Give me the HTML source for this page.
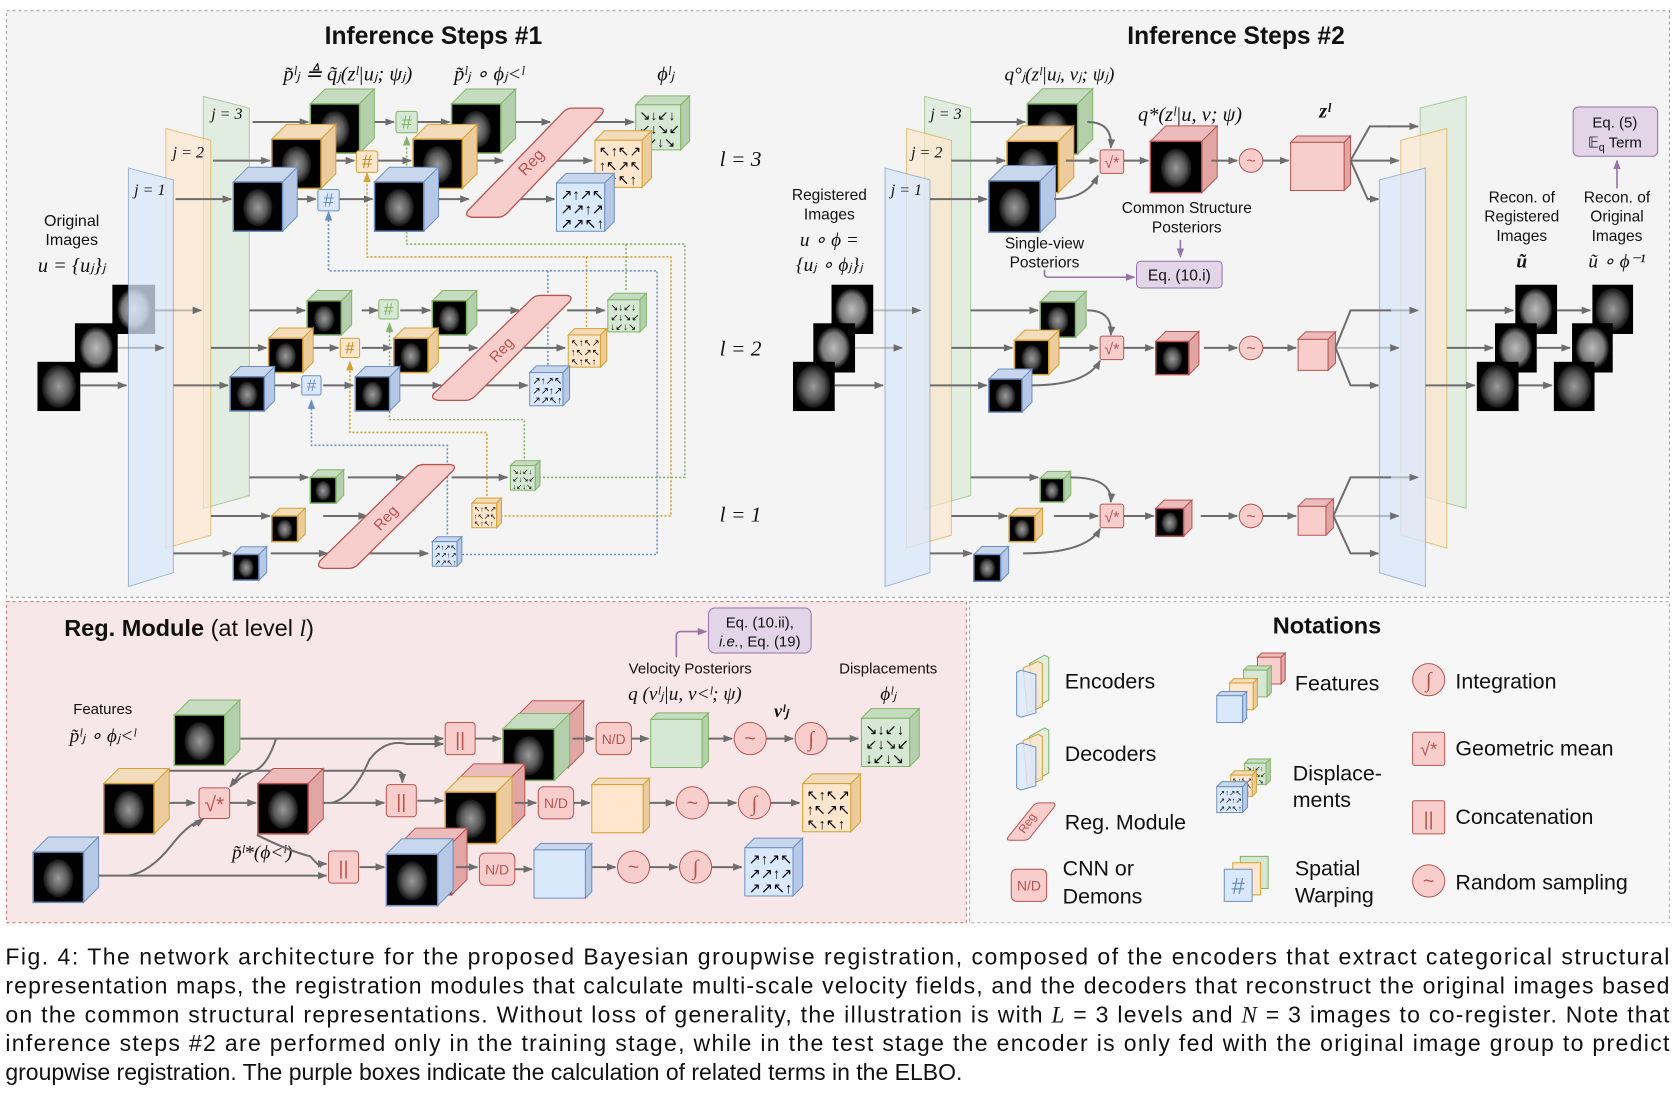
<!DOCTYPE html>
<html><head><meta charset="utf-8"><style>
html,body{margin:0;padding:0;background:#fff;}
svg{display:block}
text{font-family:"Liberation Sans",sans-serif;fill:#111}
.m{font-family:"Liberation Serif",serif;font-style:italic}
polygon,rect,ellipse,path,line,circle{vector-effect:non-scaling-stroke}
.ar{stroke:#6d6d6d;stroke-width:2;fill:none;marker-end:url(#a)}
.ln{stroke:#6d6d6d;stroke-width:2;fill:none}
</style></head><body>
<svg width="1678" height="1094" viewBox="0 0 1568 1022" preserveAspectRatio="none" xmlns="http://www.w3.org/2000/svg">
<defs>
<marker id="a" markerWidth="9" markerHeight="9" refX="8" refY="4.5" orient="auto" markerUnits="userSpaceOnUse"><path d="M0,1 L9,4.5 L0,8 z" fill="#6d6d6d"/></marker>
<marker id="ag" markerWidth="9" markerHeight="9" refX="8" refY="4.5" orient="auto" markerUnits="userSpaceOnUse"><path d="M0,1 L9,4.5 L0,8 z" fill="#82b366"/></marker>
<marker id="ao" markerWidth="9" markerHeight="9" refX="8" refY="4.5" orient="auto" markerUnits="userSpaceOnUse"><path d="M0,1 L9,4.5 L0,8 z" fill="#d6a030"/></marker>
<marker id="ab" markerWidth="9" markerHeight="9" refX="8" refY="4.5" orient="auto" markerUnits="userSpaceOnUse"><path d="M0,1 L9,4.5 L0,8 z" fill="#6c8ebf"/></marker>
<marker id="ap" markerWidth="9" markerHeight="9" refX="8" refY="4.5" orient="auto" markerUnits="userSpaceOnUse"><path d="M0,1 L9,4.5 L0,8 z" fill="#9673a6"/></marker>
<radialGradient id="br" cx="0.5" cy="0.5" r="0.5"><stop offset="0" stop-color="#9a9a9a"/><stop offset="0.6" stop-color="#5a5a5a"/><stop offset="1" stop-color="#111"/></radialGradient>
<radialGradient id="mri" cx="0.5" cy="0.5" r="0.5"><stop offset="0" stop-color="#bbb"/><stop offset="0.7" stop-color="#777"/><stop offset="1" stop-color="#000"/></radialGradient>
<g id="cg"><polygon points="0,0 30,-30 130,-30 100,0" fill="#c6dcc0" stroke="#82b366"/><polygon points="100,0 130,-30 130,70 100,100" fill="#b3cfac" stroke="#82b366"/><rect width="100" height="100" fill="#000" stroke="#82b366" stroke-width="1.5"/><ellipse cx="50" cy="52" rx="30" ry="38" fill="url(#br)"/></g>
<g id="co"><polygon points="0,0 30,-30 130,-30 100,0" fill="#f3dcbb" stroke="#d6a030"/><polygon points="100,0 130,-30 130,70 100,100" fill="#eccb9c" stroke="#d6a030"/><rect width="100" height="100" fill="#000" stroke="#d6a030" stroke-width="1.5"/><ellipse cx="50" cy="52" rx="30" ry="38" fill="url(#br)"/></g>
<g id="cb"><polygon points="0,0 30,-30 130,-30 100,0" fill="#c9d7ec" stroke="#6c8ebf"/><polygon points="100,0 130,-30 130,70 100,100" fill="#b5c8e5" stroke="#6c8ebf"/><rect width="100" height="100" fill="#000" stroke="#6c8ebf" stroke-width="1.5"/><ellipse cx="50" cy="52" rx="30" ry="38" fill="url(#br)"/></g>
<g id="cr"><polygon points="0,0 30,-30 130,-30 100,0" fill="#ebbcbb" stroke="#b85450"/><polygon points="100,0 130,-30 130,70 100,100" fill="#e1a6a4" stroke="#b85450"/><rect width="100" height="100" fill="#000" stroke="#b85450" stroke-width="1.5"/><ellipse cx="50" cy="52" rx="30" ry="38" fill="url(#br)"/></g>
<g id="dg"><polygon points="0,0 20,-20 120,-20 100,0" fill="#c6dcc0" stroke="#82b366"/><polygon points="100,0 120,-20 120,80 100,100" fill="#b3cfac" stroke="#82b366"/><rect width="100" height="100" fill="#d5e8d4" stroke="#82b366"/><text x="8" y="34" font-size="30" style="fill:#000">↘↓↙↓</text><text x="8" y="64" font-size="30" style="fill:#000">↙↓↘↙</text><text x="8" y="94" font-size="30" style="fill:#000">↓↙↓↘</text></g>
<g id="do"><polygon points="0,0 20,-20 120,-20 100,0" fill="#f3dcbb" stroke="#d6a030"/><polygon points="100,0 120,-20 120,80 100,100" fill="#eccb9c" stroke="#d6a030"/><rect width="100" height="100" fill="#ffe6cc" stroke="#d6a030"/><text x="8" y="34" font-size="30" style="fill:#000">↖↑↖↗</text><text x="8" y="64" font-size="30" style="fill:#000">↑↖↗↖</text><text x="8" y="94" font-size="30" style="fill:#000">↖↑↖↑</text></g>
<g id="db"><polygon points="0,0 20,-20 120,-20 100,0" fill="#c9d7ec" stroke="#6c8ebf"/><polygon points="100,0 120,-20 120,80 100,100" fill="#b5c8e5" stroke="#6c8ebf"/><rect width="100" height="100" fill="#dae8fc" stroke="#6c8ebf"/><text x="8" y="34" font-size="30" style="fill:#000">↗↑↗↖</text><text x="8" y="64" font-size="30" style="fill:#000">↗↗↑↗</text><text x="8" y="94" font-size="30" style="fill:#000">↗↗↖↑</text></g>
<g id="wg"><rect width="20" height="20" rx="2" fill="#d5e8d4" stroke="#82b366"/><text x="10" y="16" font-size="17" text-anchor="middle" style="fill:#82b366">#</text></g>
<g id="wo"><rect width="20" height="20" rx="2" fill="#ffe6cc" stroke="#d6a030"/><text x="10" y="16" font-size="17" text-anchor="middle" style="fill:#c08a20">#</text></g>
<g id="wb"><rect width="20" height="20" rx="2" fill="#dae8fc" stroke="#6c8ebf"/><text x="10" y="16" font-size="17" text-anchor="middle" style="fill:#6c8ebf">#</text></g>
<g id="gm"><rect width="22" height="22" rx="2" fill="#f8cecc" stroke="#b85450"/><text x="11" y="17" font-size="15" text-anchor="middle" style="fill:#b85450">√*</text></g>
<g id="cc"><rect width="28" height="30" rx="3" fill="#f8cecc" stroke="#b85450"/><text x="14" y="22" font-size="18" text-anchor="middle" style="fill:#b85450">||</text></g>
<g id="nd"><rect width="33" height="30" rx="5" fill="#f8cecc" stroke="#b85450"/><text x="16.5" y="20" font-size="13" text-anchor="middle" style="fill:#b85450">N/D</text></g>
<g id="rs"><circle r="15" fill="#f8cecc" stroke="#b85450"/><text x="0" y="6" font-size="18" text-anchor="middle" style="fill:#b85450">~</text></g>
<g id="rs2"><circle r="11" fill="#f8cecc" stroke="#b85450"/><text x="0" y="5" font-size="15" text-anchor="middle" style="fill:#b85450">~</text></g>
<g id="it"><circle r="15" fill="#f8cecc" stroke="#b85450"/><text x="0" y="7" font-size="20" text-anchor="middle" class="m" style="fill:#b85450">∫</text></g>
</defs>

<!-- panels -->
<rect x="6" y="10" width="1554" height="548" fill="#f4f4f4" stroke="#999" stroke-dasharray="3,3"/>
<rect x="6" y="562" width="897" height="300" fill="#f7e7e8" stroke="#c96b6b" stroke-dasharray="3,3"/>
<rect x="906" y="562" width="654" height="300" fill="#f7f7f7" stroke="#aaa" stroke-dasharray="3,3"/>

<!-- ================= Inference #1 ================= -->
<text x="405" y="41" font-size="23" font-weight="bold" text-anchor="middle">Inference Steps #1</text>
<text x="325" y="75" font-size="19" class="m" text-anchor="middle">p̃ˡⱼ ≜ q̃ⱼ(zˡ|uⱼ; ψⱼ)</text>
<text x="457" y="75" font-size="19" class="m" text-anchor="middle">p̃ˡⱼ ∘ ϕⱼ<ˡ</text>
<text x="622" y="75" font-size="19" class="m" text-anchor="middle">ϕˡⱼ</text>

<text x="67" y="211" font-size="15" text-anchor="middle">Original</text>
<text x="67" y="229" font-size="15" text-anchor="middle">Images</text>
<text x="67" y="254" font-size="19" class="m" text-anchor="middle">u = {uⱼ}ⱼ</text>

<!-- input images -->
<rect x="105" y="266" width="40" height="46" fill="#000"/><ellipse cx="125" cy="289" rx="16" ry="20" fill="url(#mri)"/>
<rect x="70" y="302" width="40" height="46" fill="#000"/><ellipse cx="90" cy="325" rx="16" ry="20" fill="url(#mri)"/>
<rect x="35" y="338" width="40" height="46" fill="#000"/><ellipse cx="55" cy="361" rx="16" ry="20" fill="url(#br)"/>

<!-- encoders -->
<polygon points="190,90 233,101 233,463 190,475" fill="#d5e8d4" fill-opacity="0.6" stroke="#82b366" stroke-opacity="0.6"/>
<polygon points="155,120 197,131 197,500 155,512" fill="#ffe6cc" fill-opacity="0.65" stroke="#d6a030" stroke-opacity="0.6"/>
<polygon points="120,157 162,168 162,535 120,548" fill="#dae8fc" fill-opacity="0.75" stroke="#6c8ebf" stroke-opacity="0.6"/>
<text x="212" y="111" font-size="15" class="m" text-anchor="middle">j = 3</text>
<text x="176" y="147" font-size="15" class="m" text-anchor="middle">j = 2</text>
<text x="140" y="182" font-size="15" class="m" text-anchor="middle">j = 1</text>
<path class="ar" d="M145,290 H188" stroke-opacity="0.4"/><path class="ar" d="M110,325 H153" stroke-opacity="0.4"/><path class="ar" d="M75,360 H118"/>

<!-- dotted feedback connectors -->
<g fill="none" stroke-width="1.6" stroke-dasharray="2,2">
<path d="M500,446 H640 V228 H380 V128" stroke="#82b366" marker-end="url(#ag)"/>
<path d="M585,228 V272" stroke="#82b366"/>
<path d="M464,482 H627 V240 H343 V162" stroke="#d6a030" marker-end="url(#ao)"/>
<path d="M548,240 V308" stroke="#d6a030"/>
<path d="M428,518 H614 V253 H307 V198" stroke="#6c8ebf" marker-end="url(#ab)"/>
<path d="M512,253 V347" stroke="#6c8ebf"/>
<path d="M490,432 V392 H364 V302" stroke="#82b366" marker-end="url(#ag)"/>
<path d="M455,467 V404 H327 V338" stroke="#d6a030" marker-end="url(#ao)"/>
<path d="M418,503 V416 H291 V374" stroke="#6c8ebf" marker-end="url(#ab)"/>
</g>

<!-- l=3 -->
<path class="ar" d="M236,114 H288"/><path class="ar" d="M338,114 H368"/><path class="ar" d="M390,114 H420"/><path class="ar" d="M472,114 H514"/><path class="ar" d="M555,114 H592"/>
<path class="ar" d="M199,150 H252"/><path class="ar" d="M302,150 H331"/><path class="ar" d="M353,150 H384"/><path class="ar" d="M436,150 H470"/><path class="ar" d="M520,150 H553"/>
<path class="ar" d="M164,186 H216"/><path class="ar" d="M266,186 H295"/><path class="ar" d="M317,186 H348"/><path class="ar" d="M398,186 H438"/><path class="ar" d="M480,186 H518"/>
<use href="#cg" transform="translate(290,97) scale(0.46)"/>
<use href="#co" transform="translate(254,130) scale(0.46)"/>
<use href="#cb" transform="translate(218,170) scale(0.46)"/>
<use href="#cg" transform="translate(422,97) scale(0.46)"/>
<use href="#co" transform="translate(386,130) scale(0.46)"/>
<use href="#cb" transform="translate(350,170) scale(0.46)"/>
<use href="#wg" transform="translate(370,104)"/>
<use href="#wo" transform="translate(333,141)"/>
<use href="#wb" transform="translate(297,177)"/>
<path d="M437,197 L527,104 Q530,101 535,101 L561,101 Q566,102 562,107 L474,199 Q470,203 465,203 L441,203 Q434,202 437,197 Z" fill="#f8cecc" stroke="#b85450" stroke-width="1.3"/>
<text x="0" y="0" font-size="15" text-anchor="middle" transform="translate(500,155) rotate(-47)" style="fill:#b85450">Reg</text>
<use href="#dg" transform="translate(594,98) scale(0.42)"/>
<use href="#do" transform="translate(556,131) scale(0.44)"/>
<use href="#db" transform="translate(520,171) scale(0.45)"/>

<!-- l=2 -->
<path class="ar" d="M233,290 H285"/><path class="ar" d="M338,290 H353"/><path class="ar" d="M374,290 H402"/><path class="ar" d="M443,290 H485"/><path class="ar" d="M530,290 H565"/>
<path class="ar" d="M197,325 H249"/><path class="ar" d="M292,325 H316"/><path class="ar" d="M338,325 H366"/><path class="ar" d="M406,325 H446"/><path class="ar" d="M490,325 H528"/>
<path class="ar" d="M162,360 H213"/><path class="ar" d="M255,360 H280"/><path class="ar" d="M302,360 H330"/><path class="ar" d="M372,360 H412"/><path class="ar" d="M452,360 H493"/>
<use href="#cg" transform="translate(287,281) scale(0.32)"/>
<use href="#co" transform="translate(251,316) scale(0.32)"/>
<use href="#cb" transform="translate(215,352) scale(0.32)"/>
<use href="#cg" transform="translate(404,281) scale(0.32)"/>
<use href="#co" transform="translate(368,316) scale(0.32)"/>
<use href="#cb" transform="translate(332,352) scale(0.32)"/>
<use href="#wg" transform="translate(354,280) scale(0.9)"/>
<use href="#wo" transform="translate(318,316) scale(0.9)"/>
<use href="#wb" transform="translate(282,351) scale(0.9)"/>
<path d="M405,368 L497,279 Q500,276 505,276 L530,276 Q536,277 532,282 L444,370 Q440,374 435,374 L410,374 Q402,373 405,368 Z" fill="#f8cecc" stroke="#b85450" stroke-width="1.3"/>
<text x="0" y="0" font-size="14" text-anchor="middle" transform="translate(472,330) rotate(-47)" style="fill:#b85450">Reg</text>
<use href="#dg" transform="translate(568,280) scale(0.3)"/>
<use href="#do" transform="translate(531,313) scale(0.3)"/>
<use href="#db" transform="translate(495,348) scale(0.31)"/>

<!-- l=1 -->
<path class="ar" d="M233,446 H288"/><path class="ar" d="M325,446 H378"/><path class="ar" d="M422,446 H474"/>
<path class="ar" d="M197,482 H252"/><path class="ar" d="M302,482 H343"/>
<path class="ar" d="M162,517 H216"/><path class="ar" d="M253,517 H306"/><path class="ar" d="M345,517 H400"/>
<use href="#cg" transform="translate(290,446) scale(0.24)"/>
<use href="#co" transform="translate(254,482) scale(0.24)"/>
<use href="#cb" transform="translate(218,518) scale(0.24)"/>
<path d="M299,524 L388,437 Q391,434 396,434 L421,434 Q427,435 423,440 L335,527 Q331,531 326,531 L303,531 Q295,530 299,524 Z" fill="#f8cecc" stroke="#b85450" stroke-width="1.3"/>
<text x="0" y="0" font-size="14" text-anchor="middle" transform="translate(364,487) rotate(-47)" style="fill:#b85450">Reg</text>
<use href="#dg" transform="translate(477,435) scale(0.23)"/>
<use href="#do" transform="translate(441,470) scale(0.23)"/>
<use href="#db" transform="translate(404,506) scale(0.23)"/>

<text x="692" y="155" font-size="20" class="m" text-anchor="middle">l = 3</text>
<text x="692" y="332" font-size="20" class="m" text-anchor="middle">l = 2</text>
<text x="692" y="487" font-size="20" class="m" text-anchor="middle">l = 1</text>

<!-- ================= Inference #2 ================= -->
<text x="1155" y="41" font-size="23" font-weight="bold" text-anchor="middle">Inference Steps #2</text>
<text x="990" y="75" font-size="18" class="m" text-anchor="middle">q°ⱼ(zˡ|uⱼ, vⱼ; ψⱼ)</text>
<text x="1112" y="113" font-size="19" class="m" text-anchor="middle">q*(zˡ|u, v; ψ)</text>
<text x="1238" y="110" font-size="19" class="m" font-weight="bold" text-anchor="middle">zˡ</text>
<text x="775" y="187" font-size="14.5" text-anchor="middle">Registered</text>
<text x="775" y="205" font-size="14.5" text-anchor="middle">Images</text>
<text x="775" y="230" font-size="18" class="m" text-anchor="middle">u ∘ ϕ =</text>
<text x="775" y="253" font-size="18" class="m" text-anchor="middle">{uⱼ ∘ ϕⱼ}ⱼ</text>

<rect x="777" y="266" width="39" height="46" fill="#000"/><ellipse cx="796" cy="289" rx="16" ry="20" fill="url(#mri)"/>
<rect x="760" y="302" width="39" height="46" fill="#000"/><ellipse cx="779" cy="325" rx="16" ry="20" fill="url(#mri)"/>
<rect x="741" y="338" width="39" height="46" fill="#000"/><ellipse cx="760" cy="361" rx="16" ry="20" fill="url(#br)"/>

<polygon points="864,90 907,101 907,463 864,475" fill="#d5e8d4" fill-opacity="0.6" stroke="#82b366" stroke-opacity="0.6"/>
<polygon points="847,120 889,131 889,500 847,512" fill="#ffe6cc" fill-opacity="0.65" stroke="#d6a030" stroke-opacity="0.6"/>
<polygon points="827,157 869,168 869,535 827,548" fill="#dae8fc" fill-opacity="0.75" stroke="#6c8ebf" stroke-opacity="0.6"/>
<text x="884" y="111" font-size="15" class="m" text-anchor="middle">j = 3</text>
<text x="866" y="147" font-size="15" class="m" text-anchor="middle">j = 2</text>
<text x="847" y="182" font-size="15" class="m" text-anchor="middle">j = 1</text>
<path class="ar" d="M816,290 H860" stroke-opacity="0.4"/><path class="ar" d="M799,325 H843" stroke-opacity="0.4"/><path class="ar" d="M780,360 H825"/>

<!-- decoders -->
<polygon points="1327,101 1370,90 1370,475 1327,463" fill="#d5e8d4" fill-opacity="0.6" stroke="#82b366" stroke-opacity="0.6"/>
<polygon points="1309,131 1352,120 1352,512 1309,500" fill="#ffe6cc" fill-opacity="0.65" stroke="#d6a030" stroke-opacity="0.6"/>
<polygon points="1289,168 1332,157 1332,548 1289,535" fill="#dae8fc" fill-opacity="0.75" stroke="#6c8ebf" stroke-opacity="0.6"/>

<!-- l3 -->
<path class="ar" d="M907,114 H958"/><path class="ar" d="M889,150 H939"/><path class="ar" d="M869,186 H922"/>
<use href="#cg" transform="translate(960,97) scale(0.47)"/>
<use href="#co" transform="translate(941,132) scale(0.48)"/>
<use href="#cb" transform="translate(924,169) scale(0.48)"/>
<path class="ar" d="M1016,114 Q1040,114 1038,138"/><path class="ar" d="M996,150 H1026"/><path class="ar" d="M985,186 Q1015,186 1026,164"/>
<use href="#gm" transform="translate(1028,140)"/>
<path class="ar" d="M1050,150 H1073"/>
<use href="#cr" transform="translate(1075,132) scale(0.48)"/>
<path class="ar" d="M1132,150 H1156"/>
<use href="#rs2" transform="translate(1169,150)"/>
<path class="ar" d="M1180,150 H1204"/>
<polygon points="1206,133 1212,127 1262,127 1256,133" fill="#ebbcbb" stroke="#b85450"/>
<polygon points="1256,133 1262,127 1262,172 1256,178" fill="#e1a6a4" stroke="#b85450"/>
<rect x="1206" y="133" width="50" height="45" fill="#f8cecc" stroke="#b85450"/>
<path class="ar" d="M1262,150 H1307"/><path class="ln" d="M1262,150 L1280,118 H1300"/><path class="ar" d="M1296,118 H1325"/><path class="ln" d="M1262,150 L1278,186 H1287"/><path class="ar" d="M1278,186 H1288"/>
<text x="1109" y="199" font-size="14.5" text-anchor="middle">Common Structure</text>
<text x="1109" y="217" font-size="14.5" text-anchor="middle">Posteriors</text>
<text x="976" y="232" font-size="14.5" text-anchor="middle">Single-view</text>
<text x="976" y="250" font-size="14.5" text-anchor="middle">Posteriors</text>
<path d="M1103,224 V240" stroke="#9673a6" stroke-width="1.6" fill="none" marker-end="url(#ap)"/>
<path d="M976,252 V256 Q976,259 980,259 H1060" stroke="#9673a6" stroke-width="1.6" fill="none" marker-end="url(#ap)"/>
<rect x="1062" y="244" width="80" height="25" rx="4" fill="#e1d5e7" stroke="#9673a6"/>
<text x="1102" y="262" font-size="14.5" text-anchor="middle">Eq. (10.i)</text>
<rect x="1470" y="100" width="79" height="46" rx="5" fill="#e1d5e7" stroke="#9673a6"/>
<text x="1509" y="119" font-size="14" text-anchor="middle">Eq. (5)</text>
<text x="1509" y="138" font-size="14" text-anchor="middle">𝔼<tspan font-size="10" dy="3">q</tspan><tspan dy="-3"> Term</tspan></text>
<path d="M1511,176 V150" stroke="#9673a6" stroke-width="1.6" fill="none" marker-end="url(#ap)"/>
<text x="1422" y="189" font-size="14.5" text-anchor="middle">Recon. of</text>
<text x="1422" y="207" font-size="14.5" text-anchor="middle">Registered</text>
<text x="1422" y="225" font-size="14.5" text-anchor="middle">Images</text>
<text x="1422" y="250" font-size="18" class="m" font-weight="bold" text-anchor="middle">ũ</text>
<text x="1511" y="189" font-size="14.5" text-anchor="middle">Recon. of</text>
<text x="1511" y="207" font-size="14.5" text-anchor="middle">Original</text>
<text x="1511" y="225" font-size="14.5" text-anchor="middle">Images</text>
<text x="1511" y="250" font-size="18" class="m" text-anchor="middle">ũ ∘ ϕ⁻¹</text>

<!-- recon images -->
<path class="ar" d="M1370,290 H1414"/><path class="ar" d="M1352,325 H1395"/><path class="ar" d="M1332,360 H1378"/>
<rect x="1416" y="266" width="39" height="46" fill="#000"/><ellipse cx="1435" cy="289" rx="16" ry="20" fill="url(#mri)"/>
<rect x="1397" y="302" width="39" height="46" fill="#000"/><ellipse cx="1416" cy="325" rx="16" ry="20" fill="url(#mri)"/>
<rect x="1380" y="338" width="39" height="46" fill="#000"/><ellipse cx="1399" cy="361" rx="16" ry="20" fill="url(#br)"/>
<path class="ar" d="M1455,290 H1486"/><path class="ar" d="M1436,325 H1467"/><path class="ar" d="M1419,360 H1450"/>
<rect x="1488" y="266" width="38" height="46" fill="#000"/><ellipse cx="1507" cy="289" rx="16" ry="20" fill="url(#br)"/>
<rect x="1469" y="302" width="38" height="46" fill="#000"/><ellipse cx="1488" cy="325" rx="16" ry="20" fill="url(#mri)"/>
<rect x="1452" y="338" width="38" height="46" fill="#000"/><ellipse cx="1471" cy="361" rx="16" ry="20" fill="url(#br)"/>

<!-- l2 -->
<path class="ar" d="M907,290 H970"/><path class="ar" d="M889,325 H946"/><path class="ar" d="M869,360 H922"/>
<use href="#cg" transform="translate(972,282) scale(0.33)"/>
<use href="#co" transform="translate(948,318) scale(0.32)"/>
<use href="#cb" transform="translate(924,354) scale(0.31)"/>
<path class="ar" d="M1016,290 Q1040,290 1038,313"/><path class="ar" d="M990,325 H1026"/><path class="ar" d="M964,360 Q1015,360 1028,337"/>
<use href="#gm" transform="translate(1028,314)"/>
<path class="ar" d="M1050,325 H1078"/>
<use href="#cr" transform="translate(1080,319) scale(0.31)"/>
<path class="ar" d="M1125,325 H1156"/>
<use href="#rs2" transform="translate(1169,325)"/>
<path class="ar" d="M1180,325 H1211"/>
<polygon points="1213,317 1220,310 1248,310 1241,317" fill="#ebbcbb" stroke="#b85450"/>
<polygon points="1241,317 1248,310 1248,339 1241,346" fill="#e1a6a4" stroke="#b85450"/>
<rect x="1213" y="317" width="28" height="29" fill="#f8cecc" stroke="#b85450"/>
<path class="ar" d="M1248,325 H1307" stroke-opacity="0.4"/><path class="ln" d="M1248,325 L1262,290 H1300"/><path class="ar" d="M1296,290 H1325" stroke-opacity="0.4"/><path class="ln" d="M1248,325 L1262,360 H1280"/><path class="ar" d="M1278,360 H1288"/>

<!-- l1 -->
<path class="ar" d="M907,446 H970"/><path class="ar" d="M889,482 H941"/><path class="ar" d="M869,517 H908"/>
<use href="#cg" transform="translate(972,447) scale(0.22)"/>
<use href="#co" transform="translate(943,482) scale(0.24)"/>
<use href="#cb" transform="translate(910,518) scale(0.25)"/>
<path class="ar" d="M1000,446 Q1040,446 1038,469"/><path class="ar" d="M985,482 H1026"/><path class="ar" d="M956,517 Q1015,517 1028,494"/>
<use href="#gm" transform="translate(1028,471)"/>
<path class="ar" d="M1050,482 H1078"/>
<use href="#cr" transform="translate(1080,475) scale(0.26)"/>
<path class="ar" d="M1122,482 H1156"/>
<use href="#rs2" transform="translate(1169,482)"/>
<path class="ar" d="M1180,482 H1211"/>
<polygon points="1213,473 1220,466 1246,466 1239,473" fill="#ebbcbb" stroke="#b85450"/>
<polygon points="1239,473 1246,466 1246,493 1239,500" fill="#e1a6a4" stroke="#b85450"/>
<rect x="1213" y="473" width="26" height="27" fill="#f8cecc" stroke="#b85450"/>
<path class="ar" d="M1246,482 H1307" stroke-opacity="0.4"/><path class="ln" d="M1246,482 L1262,446 H1300"/><path class="ar" d="M1296,446 H1325" stroke-opacity="0.4"/><path class="ln" d="M1246,482 L1262,517 H1280"/><path class="ar" d="M1278,517 H1288"/>

<!-- ================= Reg Module ================= -->
<text x="60" y="594" font-size="22" font-weight="bold">Reg. Module <tspan font-weight="normal">(at level </tspan><tspan class="m" font-weight="normal">l</tspan><tspan font-weight="normal">)</tspan></text>
<rect x="662" y="568" width="96" height="42" rx="6" fill="#e1d5e7" stroke="#9673a6"/>
<text x="710" y="586" font-size="14" text-anchor="middle">Eq. (10.ii),</text>
<text x="710" y="604" font-size="14" text-anchor="middle"><tspan font-style="italic">i.e.</tspan>, Eq. (19)</text>
<path d="M632,614 V594 Q632,590 636,590 H660" stroke="#9673a6" stroke-width="1.6" fill="none" marker-end="url(#ap)"/>
<text x="645" y="629" font-size="14" text-anchor="middle">Velocity Posteriors</text>
<text x="640" y="654" font-size="18" class="m" text-anchor="middle">q (vˡⱼ|u, v<ˡ; ψ)</text>
<text x="830" y="629" font-size="14" text-anchor="middle">Displacements</text>
<text x="830" y="654" font-size="18" class="m" text-anchor="middle">ϕˡⱼ</text>
<text x="730" y="670" font-size="17" class="m" font-weight="bold" text-anchor="middle">vˡⱼ</text>
<text x="96" y="667" font-size="14" text-anchor="middle">Features</text>
<text x="96" y="693" font-size="18" class="m" text-anchor="middle">p̃ˡⱼ ∘ ϕⱼ<ˡ</text>
<text x="245" y="802" font-size="18" class="m" text-anchor="middle">p̃ˡ*(ϕ<ˡ)</text>

<!-- connectors -->
<path class="ar" d="M212,690 H414"/>
<path class="ln" d="M258,690 Q250,715 238,720 Q225,725 218,733"/><path class="ar" d="M225,722 L215,735"/>
<path class="ln" d="M126,732 V725 Q126,720 131,720 H370 Q376,720 376,726"/><path class="ar" d="M376,722 V731"/>
<path class="ar" d="M146,750 H182"/><path class="ar" d="M213,750 H239"/>
<path class="ar" d="M290,750 H359"/>
<path class="ln" d="M310,750 Q330,745 345,710 Q360,690 380,695 H400"/><path class="ar" d="M395,695 H414"/>
<path class="ar" d="M80,818 H305"/>
<path class="ln" d="M120,818 Q140,815 160,790 Q175,770 190,765"/><path class="ar" d="M180,772 L190,765"/>
<path class="ln" d="M240,780 Q270,795 290,800 Q295,806 300,810"/><path class="ar" d="M296,807 H305"/>
<path class="ar" d="M444,690 H468"/><path class="ar" d="M390,748 H414"/><path class="ar" d="M336,810 H359"/>
<use href="#cc" transform="translate(416,675)"/>
<use href="#cc" transform="translate(361,733)"/>
<use href="#cc" transform="translate(307,795)"/>
<use href="#gm" transform="translate(186,736) scale(1.3)"/>
<use href="#cg" transform="translate(163,668) scale(0.47)"/>
<use href="#co" transform="translate(97,732) scale(0.47)"/>
<use href="#cr" transform="translate(241,732) scale(0.47)"/>
<use href="#cb" transform="translate(31,796) scale(0.47)"/>
<!-- stacked -->
<use href="#cr" transform="translate(483,669) scale(0.48)"/>
<use href="#cg" transform="translate(470,681) scale(0.48)"/>
<use href="#cr" transform="translate(428,728) scale(0.48)"/>
<use href="#co" transform="translate(416,740) scale(0.48)"/>
<use href="#cr" transform="translate(374,788) scale(0.48)"/>
<use href="#cb" transform="translate(361,798) scale(0.48)"/>
<path class="ar" d="M535,690 H555"/><path class="ar" d="M481,750 H501"/><path class="ar" d="M426,810 H446"/>
<use href="#nd" transform="translate(557,675)"/>
<use href="#nd" transform="translate(503,735)"/>
<use href="#nd" transform="translate(448,797)"/>
<path class="ar" d="M590,690 H606"/><path class="ar" d="M536,750 H551"/><path class="ar" d="M481,812 H497"/>
<!-- velocity boxes -->
<polygon points="608,672 614,666 662,666 656,672" fill="#c6dcc0" stroke="#82b366"/><polygon points="656,672 662,666 662,711 656,717" fill="#b3cfac" stroke="#82b366"/><rect x="608" y="672" width="48" height="45" fill="#d5e8d4" stroke="#82b366"/>
<polygon points="553,733 559,727 607,727 601,733" fill="#f3dcbb" stroke="#d6a030"/><polygon points="601,733 607,727 607,772 601,778" fill="#eccb9c" stroke="#d6a030"/><rect x="553" y="733" width="48" height="45" fill="#ffe6cc" stroke="#d6a030"/>
<polygon points="499,794 505,788 553,788 547,794" fill="#c9d7ec" stroke="#6c8ebf"/><polygon points="547,794 553,788 553,833 547,839" fill="#b5c8e5" stroke="#6c8ebf"/><rect x="499" y="794" width="48" height="45" fill="#dae8fc" stroke="#6c8ebf"/>
<path class="ar" d="M662,690 H684"/><path class="ar" d="M716,690 H741"/><path class="ar" d="M773,690 H802"/>
<path class="ar" d="M607,750 H630"/><path class="ar" d="M662,750 H688"/><path class="ar" d="M720,750 H747"/>
<path class="ar" d="M553,810 H575"/><path class="ar" d="M607,810 H633"/><path class="ar" d="M665,810 H693"/>
<use href="#rs" transform="translate(701,690)"/><use href="#it" transform="translate(758,690)"/>
<use href="#rs" transform="translate(647,750)"/><use href="#it" transform="translate(705,750)"/>
<use href="#rs" transform="translate(592,810)"/><use href="#it" transform="translate(650,810)"/>
<use href="#dg" transform="translate(805,671) scale(0.45)"/>
<use href="#do" transform="translate(750,732) scale(0.45)"/>
<use href="#db" transform="translate(696,792) scale(0.45)"/>

<!-- ================= Notations ================= -->
<text x="1240" y="592" font-size="22" font-weight="bold" text-anchor="middle">Notations</text>
<!-- encoders icon -->
<polygon points="962,620 976,612 980,614 980,654 966,662" fill="#d5e8d4" fill-opacity="0.7" stroke="#82b366"/>
<polygon points="956,624 970,618 974,620 974,660 960,666" fill="#ffe6cc" fill-opacity="0.7" stroke="#d6a030"/>
<polygon points="950,628 954,626 968,630 968,666 954,670 950,668" fill="#dae8fc" fill-opacity="0.8" stroke="#6c8ebf"/>
<text x="995" y="643" font-size="20">Encoders</text>
<polygon points="962,688 976,680 980,682 980,722 966,730" fill="#d5e8d4" fill-opacity="0.7" stroke="#82b366"/>
<polygon points="956,692 970,686 974,688 974,728 960,734" fill="#ffe6cc" fill-opacity="0.7" stroke="#d6a030"/>
<polygon points="950,696 954,694 968,698 968,734 954,738 950,736" fill="#dae8fc" fill-opacity="0.8" stroke="#6c8ebf"/>
<text x="995" y="711" font-size="20">Decoders</text>
<path d="M942,782 L966,752 Q968,750 972,750 H984 Q987,751 985,754 L962,783 Q960,785 956,785 H944 Q940,785 942,782Z" fill="#f8cecc" stroke="#b85450"/>
<text x="0" y="0" font-size="11" text-anchor="middle" transform="translate(963,771) rotate(-55)" style="fill:#b85450">Reg</text>
<text x="995" y="775" font-size="20">Reg. Module</text>
<rect x="945" y="812" width="33" height="30" rx="5" fill="#f8cecc" stroke="#b85450"/><text x="961.5" y="832" font-size="13" text-anchor="middle" style="fill:#b85450">N/D</text>
<text x="993" y="818" font-size="20">CNN or</text>
<text x="993" y="844" font-size="20">Demons</text>
<!-- features icon -->
<polygon points="1175,614 1179,610 1201,610 1197,614" fill="#ebbcbb" stroke="#b85450"/><polygon points="1197,614 1201,610 1201,635 1197,639" fill="#e1a6a4" stroke="#b85450"/><rect x="1175" y="614" width="22" height="25" fill="#f8cecc" stroke="#b85450"/>
<polygon points="1162,626 1166,622 1188,622 1184,626" fill="#c6dcc0" stroke="#82b366"/><polygon points="1184,626 1188,622 1188,647 1184,651" fill="#b3cfac" stroke="#82b366"/><rect x="1162" y="626" width="22" height="25" fill="#d5e8d4" stroke="#82b366"/>
<polygon points="1149,638 1153,634 1175,634 1171,638" fill="#f3dcbb" stroke="#d6a030"/><polygon points="1171,638 1175,634 1175,659 1171,663" fill="#eccb9c" stroke="#d6a030"/><rect x="1149" y="638" width="22" height="25" fill="#ffe6cc" stroke="#d6a030"/>
<polygon points="1137,650 1141,646 1165,646 1161,650" fill="#c9d7ec" stroke="#6c8ebf"/><polygon points="1161,650 1165,646 1165,671 1161,675" fill="#b5c8e5" stroke="#6c8ebf"/><rect x="1137" y="650" width="24" height="25" fill="#dae8fc" stroke="#6c8ebf"/>
<text x="1210" y="645" font-size="20">Features</text>
<!-- displacement icon -->
<use href="#dg" transform="translate(1163,713) scale(0.2)"/>
<use href="#do" transform="translate(1150,724) scale(0.2)"/>
<use href="#db" transform="translate(1137,735) scale(0.24)"/>
<text x="1208" y="729" font-size="20">Displace-</text>
<text x="1208" y="754" font-size="20">ments</text>
<!-- warp icon -->
<rect x="1159" y="800" width="26" height="30" fill="#d5e8d4" stroke="#82b366"/>
<rect x="1152" y="806" width="26" height="30" fill="#ffe6cc" stroke="#d6a030"/>
<rect x="1144" y="812" width="26" height="30" fill="#dae8fc" stroke="#6c8ebf"/>
<text x="1157" y="835" font-size="22" text-anchor="middle" style="fill:#6c8ebf">#</text>
<text x="1210" y="818" font-size="20">Spatial</text>
<text x="1210" y="843" font-size="20">Warping</text>
<use href="#it" transform="translate(1335,635)"/>
<text x="1360" y="643" font-size="20">Integration</text>
<rect x="1320" y="684" width="30" height="31" rx="2" fill="#f8cecc" stroke="#b85450"/><text x="1335" y="706" font-size="17" text-anchor="middle" style="fill:#b85450">√*</text>
<text x="1360" y="706" font-size="20">Geometric mean</text>
<rect x="1320" y="748" width="30" height="31" rx="2" fill="#f8cecc" stroke="#b85450"/><text x="1335" y="771" font-size="18" text-anchor="middle" style="fill:#b85450">||</text>
<text x="1360" y="770" font-size="20">Concatenation</text>
<use href="#rs" transform="translate(1335,823)"/>
<text x="1360" y="831" font-size="20">Random sampling</text>

<!-- caption -->
<g font-size="21.5">
<text x="5" y="901" textLength="1555" lengthAdjust="spacing">Fig. 4: The network architecture for the proposed Bayesian groupwise registration, composed of the encoders that extract categorical structural</text>
<text x="5" y="928" textLength="1555" lengthAdjust="spacing">representation maps, the registration modules that calculate multi-scale velocity fields, and the decoders that reconstruct the original images based</text>
<text x="5" y="955" textLength="1555" lengthAdjust="spacing">on the common structural representations. Without loss of generality, the illustration is with <tspan class="m">L</tspan> = 3 levels and <tspan class="m">N</tspan> = 3 images to co-register. Note that</text>
<text x="5" y="982" textLength="1555" lengthAdjust="spacing">inference steps #2 are performed only in the training stage, while in the test stage the encoder is only fed with the original image group to predict</text>
<text x="5" y="1009">groupwise registration. The purple boxes indicate the calculation of related terms in the ELBO.</text>
</g>
</svg>
</body></html>
